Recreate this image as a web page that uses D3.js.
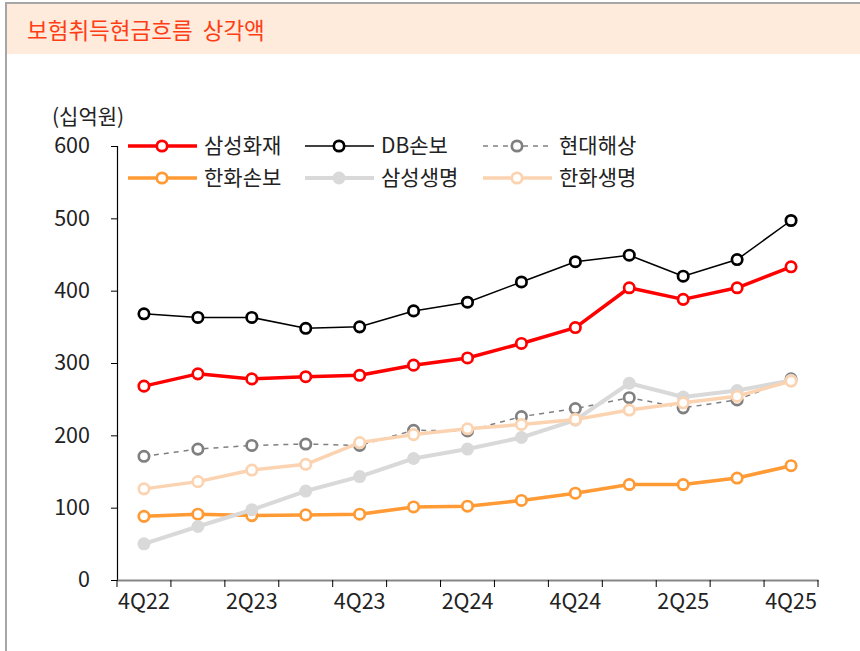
<!DOCTYPE html>
<html>
<head>
<meta charset="utf-8">
<script src="https://cdn.jsdelivr.net/npm/d3@7"></script>
<style>
  body { margin: 0; background: #fff; }
  svg { display: block; font-family: "Noto Sans CJK KR", "Noto Sans", sans-serif; }
</style>
</head>
<body>
<div id="chart"></div>
<script>
const quarters = ["4Q22", "1Q23", "2Q23", "3Q23", "4Q23", "1Q24", "2Q24", "3Q24", "4Q24", "1Q25", "2Q25", "3Q25", "4Q25"];
const tickLabels = ["4Q22", "2Q23", "4Q23", "2Q24", "4Q24", "2Q25", "4Q25"];
const yTicks = [0, 100, 200, 300, 400, 500, 600];

const samsungFire = [268, 285, 278, 281, 283, 297, 307, 327, 349, 404, 388, 404, 433];
const dbInsurance = [368, 363, 363, 348, 350, 372, 384, 412, 440, 449, 420, 443, 497];
const hyundaiMarine = [171, 181, 186, 188, 186, 207, 206, 226, 237, 252, 238, 249, 278];
const hanwhaGeneral = [88, 91, 89, 90, 91, 101, 102, 110, 120, 132, 132, 141, 158];
const samsungLife = [50, 74, 97, 123, 143, 168, 181, 197, 221, 272, 253, 262, 276];
const hanwhaLife = [126, 136, 152, 160, 190, 201, 209, 215, 222, 235, 245, 254, 275];

// drawing order = legend order, later ones on top
const series = [
  { name: "삼성화재", values: samsungFire, color: "#ff0000", width: 3.5, dash: null, marker: "open" },
  { name: "DB손보", values: dbInsurance, color: "#000000", width: 1.5, dash: null, marker: "open" },
  { name: "현대해상", values: hyundaiMarine, color: "#808080", width: 1.5, dash: "5,5", marker: "open" },
  { name: "한화손보", values: hanwhaGeneral, color: "#ff9a35", width: 3.5, dash: null, marker: "open" },
  { name: "삼성생명", values: samsungLife, color: "#d9d9d9", width: 4, dash: null, marker: "filled" },
  { name: "한화생명", values: hanwhaLife, color: "#fbd3b0", width: 3.5, dash: null, marker: "open" },
];

const width = 860, height = 651;
const svg = d3.select("#chart").append("svg")
  .attr("width", width)
  .attr("height", height);

// frame + title band
svg.append("rect").attr("x", 7).attr("y", 4).attr("width", width - 7).attr("height", 50).attr("fill", "#ffebdc");
svg.append("line").attr("x1", 6).attr("x2", 6).attr("y1", 2).attr("y2", height).attr("stroke", "#a6a6a6").attr("stroke-width", 2);
svg.append("line").attr("x1", 5).attr("x2", width).attr("y1", 3).attr("y2", 3).attr("stroke", "#a6a6a6").attr("stroke-width", 2);
svg.append("text")
  .attr("x", 27).attr("y", 39)
  .attr("font-size", "22.5px")
  .attr("fill", "#ff3d14")
  .attr("xml:space", "preserve")
  .text("보험취득현금흐름  상각액");

const x = d3.scaleBand().domain(quarters).range([117, 818]).padding(0);
const y = d3.scaleLinear().domain([0, 600]).range([580, 146]);
const cx = (i) => x(quarters[i]) + x.bandwidth() / 2;

// unit label
svg.append("text")
  .attr("x", 52).attr("y", 124)
  .attr("font-size", "21px")
  .attr("fill", "#222")
  .text("(십억원)");

// y axis
const yAxis = svg.append("g")
  .attr("transform", "translate(117,0)")
  .call(d3.axisLeft(y).tickValues(yTicks).tickSize(6).tickPadding(21));
yAxis.select(".domain").attr("stroke", "#000").attr("stroke-width", 1.2);
yAxis.selectAll(".tick line").attr("stroke", "#000");
yAxis.selectAll(".tick text")
  .attr("font-size", "21.5px")
  .attr("fill", "#222")
  .attr("font-family", "'Noto Sans CJK KR', sans-serif");

// x axis
const xAxis = svg.append("g")
  .attr("transform", "translate(0,580)")
  .call(d3.axisBottom(x).tickSize(0).tickFormat((d) => (tickLabels.includes(d) ? d : "")).tickPadding(14));
xAxis.select(".domain").attr("stroke", "#868686").attr("stroke-width", 2);
xAxis.selectAll(".tick text")
  .attr("font-size", "21.5px")
  .attr("fill", "#222")
  .attr("font-family", "'Noto Sans CJK KR', sans-serif");
// band boundary ticks
xAxis.selectAll(".band-tick")
  .data(quarters.concat(["end"]))
  .join("line")
  .attr("class", "band-tick")
  .attr("x1", (d, i) => (i < quarters.length ? x(d) : x.range()[1]))
  .attr("x2", (d, i) => (i < quarters.length ? x(d) : x.range()[1]))
  .attr("y1", 0).attr("y2", 7)
  .attr("stroke", "#000").attr("stroke-width", 1);

// lines
const line = d3.line().x((d, i) => cx(i)).y((d) => y(d));
const plot = svg.append("g");

series.forEach((s) => {
  const g = plot.append("g");
  g.append("path")
    .datum(s.values)
    .attr("fill", "none")
    .attr("stroke", s.color)
    .attr("stroke-width", s.width)
    .attr("stroke-dasharray", s.dash)
    .attr("stroke-linejoin", "round")
    .attr("d", line);
  g.selectAll("circle")
    .data(s.values)
    .join("circle")
    .attr("cx", (d, i) => cx(i))
    .attr("cy", (d) => y(d))
    .attr("r", s.marker === "filled" ? 6.5 : 5.2)
    .attr("fill", s.marker === "filled" ? s.color : "#fff")
    .attr("stroke", s.color)
    .attr("stroke-width", s.marker === "filled" ? 0 : 2.7);
});

// legend
const legendPos = [
  [128, 146], [305, 146], [483, 146],
  [128, 178], [305, 178], [483, 178],
];
series.forEach((s, i) => {
  const [lx, ly] = legendPos[i];
  const g = svg.append("g").attr("transform", `translate(${lx},${ly})`);
  g.append("line")
    .attr("x1", 0).attr("x2", 69).attr("y1", 0).attr("y2", 0)
    .attr("stroke", s.color)
    .attr("stroke-width", s.width)
    .attr("stroke-dasharray", s.dash);
  g.append("circle")
    .attr("cx", 34).attr("cy", 0)
    .attr("r", s.marker === "filled" ? 6.5 : 5.2)
    .attr("fill", s.marker === "filled" ? s.color : "#fff")
    .attr("stroke", s.color)
    .attr("stroke-width", s.marker === "filled" ? 0 : 2.7);
  g.append("text")
    .attr("x", 76).attr("y", 0)
    .attr("dy", "0.35em")
    .attr("font-size", "21px")
    .attr("fill", "#222")
    .text(s.name);
});
</script>
</body>
</html>
